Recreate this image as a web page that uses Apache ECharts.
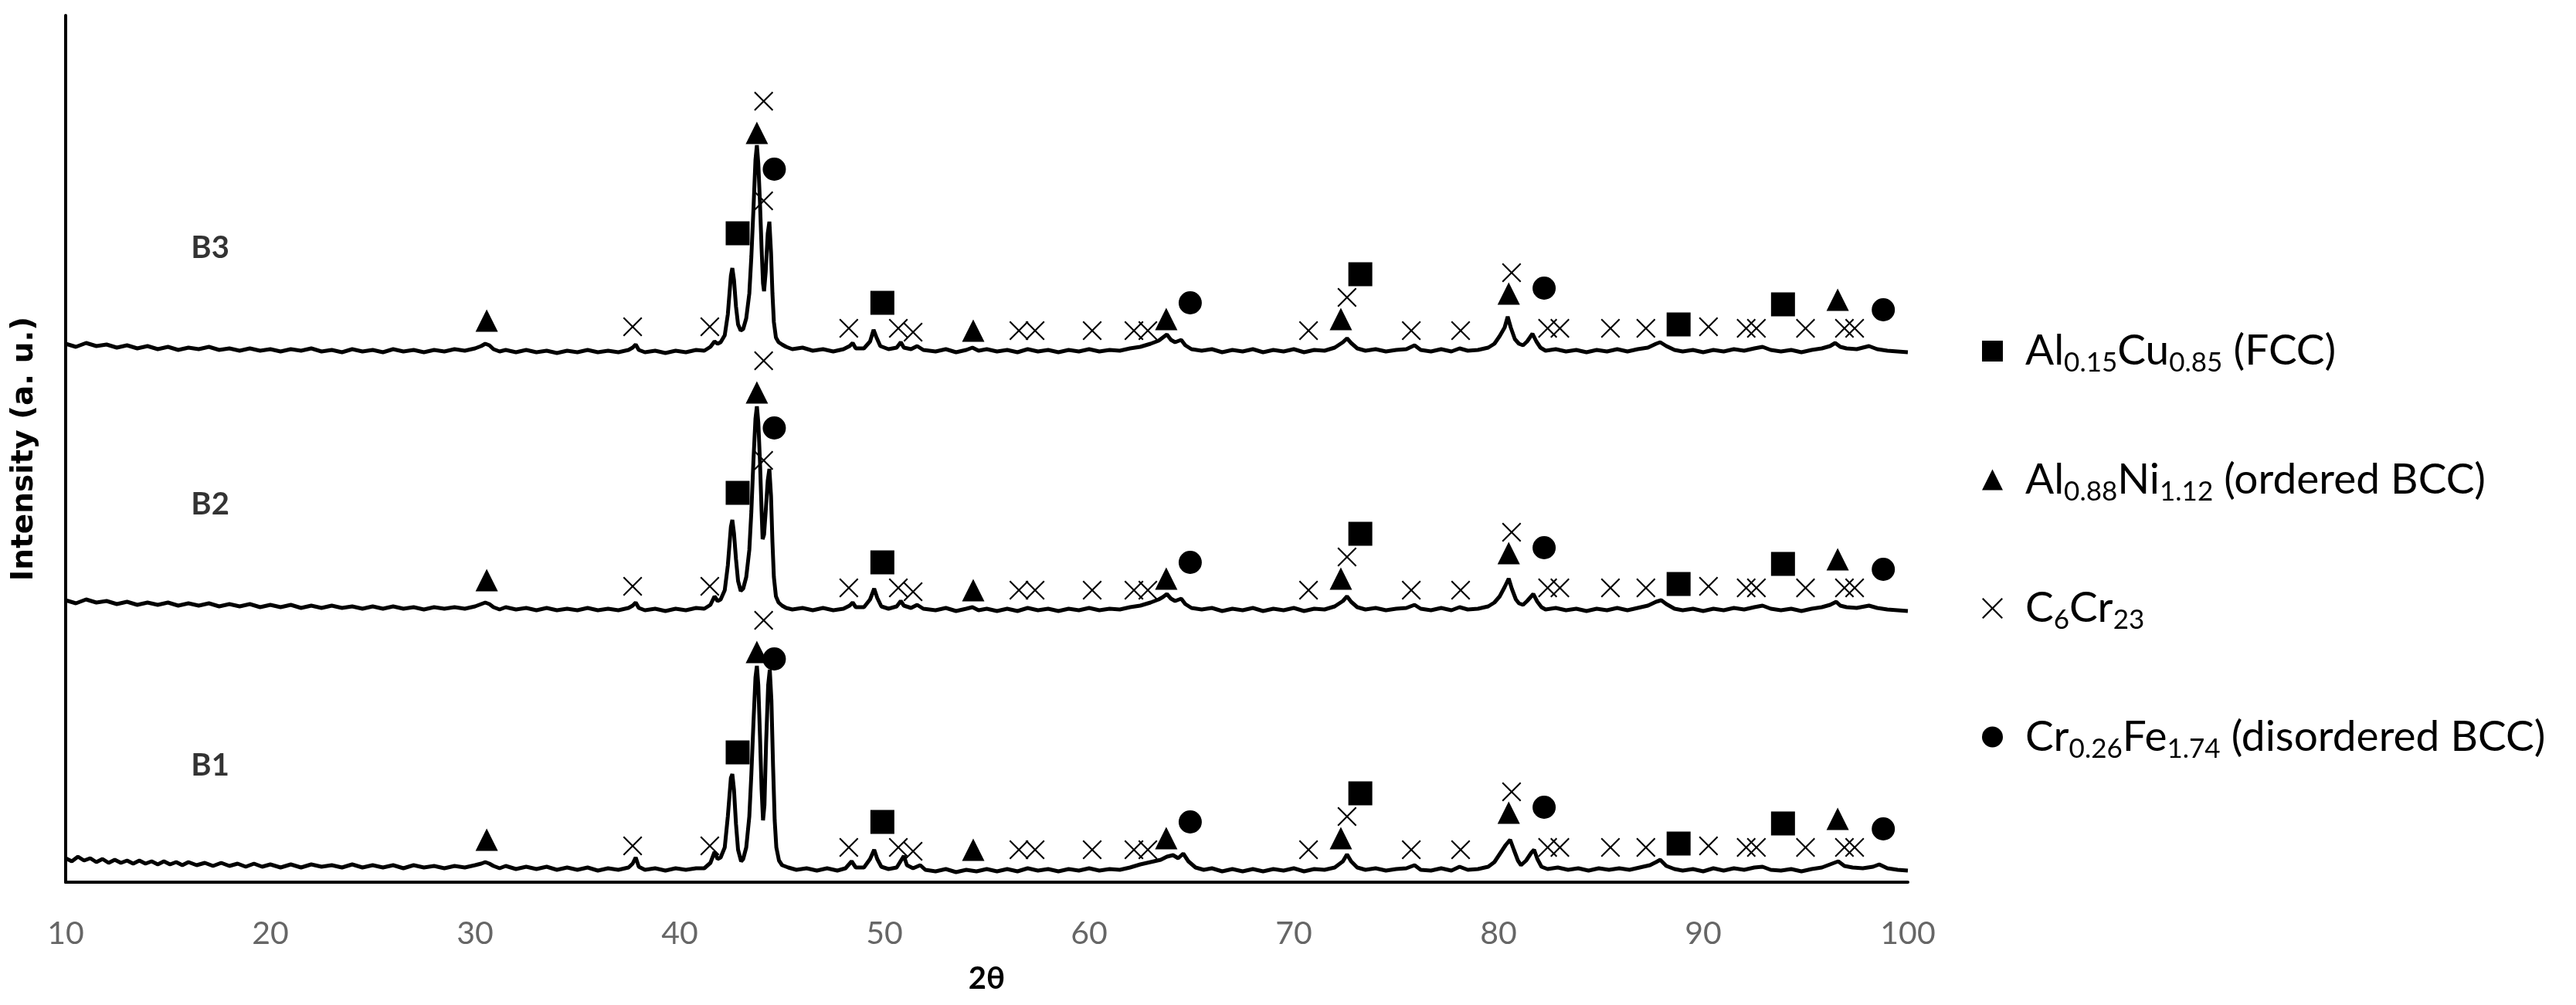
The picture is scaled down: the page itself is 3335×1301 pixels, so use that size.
<!DOCTYPE html>
<html>
<head>
<meta charset="utf-8">
<title>XRD B1 B2 B3</title>
<script src="https://cdn.jsdelivr.net/npm/echarts@6/dist/echarts.min.js"></script>
<style>
  html, body { margin: 0; padding: 0; background: #fff; }
  #chart { width: 3335px; height: 1301px; }
</style>
</head>
<body>
<div id="chart"></div>
<script>
// x axis ticks (2θ)
const xTicks = [10, 20, 30, 40, 50, 60, 70, 80, 90, 100];

// sample names and where their labels sit
const sampleNames = ["B1", "B2", "B3"];
const sampleLabelPos = [[17.06, 151], [17.06, 489], [17.06, 821]];

// diffraction patterns as plotted (already offset), [2θ, intensity]
const b3Data = [
  [10,697],[10.5,693],[11,698],[11.5,694],[12,696],[12.5,692],[13,695],[13.5,691],[14,694],[14.5,690],
  [15,693],[15.5,689],[16,692],[16.5,690],[17,693],[17.5,689],[18,691],[18.5,688],[19,691],[19.5,688],
  [20,690],[20.5,687],[21,690],[21.5,688],[22,691],[22.5,687],[23,689],[23.5,686],[24,690],[24.5,687],
  [25,689],[25.5,686],[26,690],[26.5,687],[27,689],[27.5,686],[28,689],[28.5,687],[29,690],[29.5,688],
  [30,691],[30.3,694],[30.5,697],[30.7,695],[30.9,690],[31.2,687],[31.5,689],[32,686],[32.5,689],[33,686],
  [33.5,688],[34,685],[34.5,688],[35,686],[35.5,689],[36,686],[36.5,688],[37,686],[37.5,689],[37.7,692],
  [37.85,696],[38,689],[38.3,686],[38.8,688],[39.3,685],[39.8,688],[40.3,686],[40.8,689],[41.2,688],[41.5,693],
  [41.7,700],[41.85,697],[42,699],[42.2,708],[42.35,735],[42.5,785],[42.57,795],[42.65,780],[42.75,745],[42.85,722],
  [42.98,714],[43.1,716],[43.25,730],[43.4,762],[43.5,810],[43.6,870],[43.7,935],[43.77,954],[43.84,930],[43.92,880],
  [44,820],[44.07,775],[44.12,765],[44.2,790],[44.3,840],[44.38,855],[44.46,815],[44.53,762],[44.6,725],[44.7,705],
  [44.83,699],[45,696],[45.2,693],[45.5,690],[46,692],[46.5,688],[47,690],[47.5,687],[48,690],[48.3,694],
  [48.45,698],[48.6,691],[49,691],[49.3,700],[49.47,715],[49.6,706],[49.8,694],[50.2,690],[50.6,692],[50.8,699],
  [50.95,692],[51.3,690],[51.6,694],[51.9,689],[52.5,687],[53,690],[53.5,686],[54,689],[54.3,692],[54.6,688],
  [55,690],[55.5,687],[56,689],[56.5,686],[57,690],[57.5,687],[58,689],[58.5,686],[59,689],[59.5,687],
  [60,690],[60.5,687],[61,689],[61.5,688],[62,691],[62.5,693],[63,697],[63.4,701],[63.6,705],[63.8,709],
  [64,702],[64.2,699],[64.5,702],[64.7,695],[65,690],[65.5,688],[66,690],[66.5,686],[67,689],[67.5,687],
  [68,690],[68.5,686],[69,689],[69.5,687],[70,690],[70.5,686],[71,689],[71.5,688],[72,692],[72.4,699],
  [72.6,704],[72.8,698],[73.1,691],[73.5,688],[74,690],[74.5,687],[75,689],[75.5,690],[75.9,695],[76.2,689],
  [76.7,687],[77.2,690],[77.7,687],[78.1,691],[78.5,688],[79,689],[79.5,692],[79.8,697],[80.06,707],[80.3,718],
  [80.45,732],[80.6,718],[80.8,703],[81,697],[81.2,695],[81.4,700],[81.66,710],[81.85,700],[82.05,692],[82.3,688],
  [82.8,690],[83.3,687],[83.8,689],[84.3,686],[84.8,689],[85.3,687],[85.8,690],[86.3,687],[86.8,690],[87.3,692],
  [87.7,697],[87.9,699],[88.2,694],[88.6,689],[89,687],[89.5,689],[90,686],[90.5,689],[91,687],[91.5,690],
  [92,688],[92.5,691],[92.9,693],[93.3,689],[93.8,687],[94.3,689],[94.8,686],[95.3,689],[95.8,691],[96.2,694],
  [96.45,698],[96.7,693],[97,691],[97.5,690],[98.1,694],[98.5,690],[99,688],[99.5,687],[100,686]
];

const b2Data = [
  [10,365],[10.5,361],[11,366],[11.5,362],[12,364],[12.5,360],[13,363],[13.5,359],[14,362],[14.5,359],
  [15,362],[15.5,358],[16,361],[16.5,358],[17,361],[17.5,357],[18,360],[18.5,357],[19,360],[19.5,356],
  [20,359],[20.5,356],[21,359],[21.5,355],[22,358],[22.5,355],[23,358],[23.5,355],[24,357],[24.5,354],
  [25,357],[25.5,354],[26,357],[26.5,354],[27,356],[27.5,353],[28,356],[28.5,354],[29,356],[29.5,354],
  [30,357],[30.3,360],[30.5,362],[30.7,360],[30.9,356],[31.2,353],[31.5,356],[32,353],[32.5,355],[33,352],
  [33.5,355],[34,352],[34.5,354],[35,352],[35.5,355],[36,352],[36.5,354],[37,352],[37.5,355],[37.7,358],
  [37.85,362],[38,355],[38.3,352],[38.8,354],[39.3,351],[39.8,354],[40.3,352],[40.8,355],[41.2,354],[41.5,359],
  [41.7,370],[41.85,364],[42,366],[42.2,378],[42.35,410],[42.5,460],[42.57,469],[42.65,452],[42.75,418],[42.85,390],
  [42.98,377],[43.1,380],[43.25,395],[43.4,430],[43.5,480],[43.6,545],[43.7,600],[43.77,616],[43.84,595],[43.92,545],
  [44,480],[44.05,444],[44.12,450],[44.2,480],[44.3,520],[44.38,535],[44.46,500],[44.53,440],[44.6,395],[44.7,370],
  [44.83,362],[45,358],[45.2,355],[45.5,353],[46,355],[46.5,352],[47,355],[47.5,352],[48,354],[48.3,358],
  [48.45,362],[48.6,356],[49,356],[49.3,366],[49.5,380],[49.65,368],[49.85,357],[50.2,354],[50.6,357],[50.8,364],
  [50.95,358],[51.3,355],[51.6,359],[51.9,354],[52.5,352],[53,355],[53.5,351],[54,354],[54.3,356],[54.6,352],
  [55,354],[55.5,351],[56,354],[56.5,351],[57,355],[57.5,352],[58,354],[58.5,351],[59,354],[59.5,352],
  [60,355],[60.5,352],[61,354],[61.5,353],[62,356],[62.5,358],[63,362],[63.4,366],[63.6,369],[63.8,373],
  [64,367],[64.2,364],[64.5,367],[64.7,360],[65,355],[65.5,353],[66,355],[66.5,351],[67,354],[67.5,352],
  [68,355],[68.5,351],[69,354],[69.5,352],[70,355],[70.5,351],[71,354],[71.5,353],[72,357],[72.4,364],
  [72.6,370],[72.8,363],[73.1,356],[73.5,353],[74,355],[74.5,352],[75,354],[75.5,355],[75.9,359],[76.2,354],
  [76.7,352],[77.2,355],[77.7,352],[78.1,356],[78.5,353],[79,354],[79.5,357],[79.8,362],[80.06,370],[80.3,382],
  [80.5,393],[80.65,380],[80.85,366],[81,361],[81.2,359],[81.4,364],[81.7,373],[81.9,363],[82.1,356],[82.3,353],
  [82.8,355],[83.3,352],[83.8,354],[84.3,351],[84.8,354],[85.3,352],[85.8,355],[86.3,352],[86.8,355],[87.3,358],
  [87.7,363],[87.95,365],[88.2,360],[88.6,354],[89,352],[89.5,354],[90,351],[90.5,354],[91,352],[91.5,355],
  [92,353],[92.5,356],[92.9,358],[93.3,354],[93.8,352],[94.3,354],[94.8,351],[95.3,354],[95.8,356],[96.2,359],
  [96.5,363],[96.7,358],[97,356],[97.5,355],[98.1,358],[98.5,355],[99,353],[99.5,352],[100,351]
];

const b1Data = [
  [10,31],[10.3,27],[10.6,33],[10.9,28],[11.2,31],[11.5,26],[11.8,30],[12.1,25],[12.4,29],[12.7,25],
  [13,28],[13.3,24],[13.6,28],[13.9,24],[14.2,27],[14.5,23],[14.8,27],[15.1,23],[15.4,26],[15.7,22],
  [16,26],[16.4,22],[16.8,25],[17.2,21],[17.6,25],[18,21],[18.4,24],[18.8,20],[19.2,24],[19.6,20],
  [20,23],[20.5,19],[21,23],[21.5,19],[22,23],[22.5,20],[23,22],[23.5,19],[24,23],[24.5,19],
  [25,22],[25.5,19],[26,22],[26.5,18],[27,22],[27.5,19],[28,21],[28.5,18],[29,21],[29.5,19],
  [30,22],[30.3,24],[30.5,26],[30.7,24],[30.9,21],[31.2,18],[31.5,21],[32,17],[32.5,20],[33,17],
  [33.5,20],[34,16],[34.5,19],[35,16],[35.5,19],[36,15],[36.5,18],[37,16],[37.5,19],[37.7,24],
  [37.85,32],[38,20],[38.3,16],[38.8,18],[39.3,15],[39.8,18],[40.3,16],[40.8,18],[41.2,18],[41.5,25],
  [41.7,39],[41.85,30],[42,32],[42.2,45],[42.35,85],[42.5,135],[42.57,140],[42.65,120],[42.75,75],[42.85,42],
  [43,27],[43.1,30],[43.25,45],[43.4,85],[43.5,140],[43.6,205],[43.7,265],[43.77,280],[43.84,255],[43.92,190],
  [44,120],[44.07,80],[44.14,100],[44.22,180],[44.32,255],[44.4,275],[44.48,235],[44.56,150],[44.64,80],[44.72,45],
  [44.85,28],[45,22],[45.3,19],[45.7,16],[46.2,18],[46.7,15],[47.2,18],[47.7,15],[48.1,18],[48.4,27],
  [48.6,19],[49,19],[49.3,30],[49.5,42],[49.65,30],[49.85,20],[50.2,17],[50.6,19],[50.95,34],[51.1,22],
  [51.4,18],[51.75,22],[52,16],[52.5,14],[53,17],[53.5,13],[54,16],[54.5,14],[55,17],[55.5,14],
  [56,17],[56.5,14],[57,18],[57.5,15],[58,17],[58.5,14],[59,17],[59.5,15],[60,18],[60.5,15],
  [61,17],[61.5,16],[62,19],[62.5,23],[63,26],[63.5,29],[63.8,33],[64.1,35],[64.35,31],[64.6,37],
  [64.85,27],[65.2,19],[65.6,16],[66,18],[66.5,14],[67,17],[67.5,14],[68,17],[68.5,14],[69,17],
  [69.5,15],[70,18],[70.5,14],[71,17],[71.5,16],[72,19],[72.4,27],[72.6,36],[72.8,27],[73.1,19],
  [73.5,16],[74,18],[74.5,15],[75,17],[75.5,18],[75.9,22],[76.2,16],[76.7,15],[77.2,18],[77.7,15],
  [78.1,20],[78.5,16],[79,17],[79.5,20],[79.8,26],[80.1,38],[80.35,48],[80.57,55],[80.75,42],[80.95,28],
  [81.1,22],[81.35,28],[81.6,38],[81.74,42],[81.9,30],[82.1,20],[82.4,17],[82.9,19],[83.4,16],[83.9,18],
  [84.4,15],[84.9,18],[85.4,16],[85.9,18],[86.4,16],[86.9,19],[87.4,22],[87.7,26],[87.9,29],[88.2,21],
  [88.6,17],[89,15],[89.5,17],[90,14],[90.5,18],[91,15],[91.5,18],[92,16],[92.5,19],[92.9,20],
  [93.3,16],[93.8,15],[94.3,17],[94.8,14],[95.3,17],[95.8,19],[96.2,23],[96.6,27],[96.9,21],[97.3,19],
  [97.8,18],[98.3,20],[98.6,23],[99,18],[99.5,16],[100,15]
];

// phase markers: 2θ positions and the heights they sit at for each sample
const fccPos = [42.83, 49.9, 73.25, 88.8, 93.9];
const fccB3 = [840, 750, 787, 722, 748];
const fccB2 = [504, 414, 451, 386, 412];
const fccB1 = [168, 78, 115, 50, 76];

const orderedPos = [30.57, 43.77, 54.34, 63.77, 72.3, 80.5, 96.57];
const orderedB3 = [727, 970, 714, 729, 729, 762, 754];
const orderedB2 = [391, 634, 378, 393, 393, 426, 418];
const orderedB1 = [55, 298, 42, 57, 57, 90, 82];

const carbidePos = [37.7, 41.47, 44.1, 44.1, 48.26, 50.68, 51.4, 56.57, 57.36, 60.15, 62.19, 62.87, 70.72, 72.6,
  75.74, 78.15, 80.64, 82.4, 83.0, 85.47, 87.2, 90.26, 92.1, 92.6, 95.0, 96.9, 97.4];
const carbideB3 = [719, 719, 1011, 882, 717, 717, 712, 714, 714, 714, 714, 714, 714, 757,
  714, 714, 789, 717, 717, 717, 717, 719, 717, 717, 717, 717, 717];
const carbideB2 = [383, 383, 675, 546, 381, 381, 376, 378, 378, 378, 378, 378, 378, 421,
  378, 378, 453, 381, 381, 381, 381, 383, 381, 381, 381, 381, 381];
const carbideB1 = [47, 47, 339, null, 45, 45, 40, 42, 42, 42, 42, 42, 42, 85,
  42, 42, 117, 45, 45, 45, 45, 47, 45, 45, 45, 45, 45];

const disorderedPos = [44.62, 64.94, 82.23, 98.8];
const disorderedB3 = [923, 750, 769, 741];
const disorderedB2 = [588, 414, 433, 405];
const disorderedB1 = [289, 78, 97, 69];

const phaseNames = [
  "Al0.15Cu0.85 (FCC)",
  "Al0.88Ni1.12 (ordered BCC)",
  "C6Cr23",
  "Cr0.26Fe1.74 (disordered BCC)"
];
const phaseRich = {
  "Al0.15Cu0.85 (FCC)": "{g|}{n|Al}{s|0.15}{n|Cu}{s|0.85}{n| (FCC)}",
  "Al0.88Ni1.12 (ordered BCC)": "{g|}{n|Al}{s|0.88}{n|Ni}{s|1.12}{n| (ordered BCC)}",
  "C6Cr23": "{g|}{n|C}{s|6}{n|Cr}{s|23}",
  "Cr0.26Fe1.74 (disordered BCC)": "{g|}{n|Cr}{s|0.26}{n|Fe}{s|1.74}{n| (disordered BCC)}"
};

const crossPath = "path://M0,6 L6,0 L50,44 L94,0 L100,6 L56,50 L100,94 L94,100 L50,56 L6,100 L0,94 L44,50 Z";

function markerData(pos, b1, b2, b3) {
  let out = [];
  [b1, b2, b3].forEach(hs => {
    pos.forEach((x, i) => {
      if (hs[i] != null) out.push([x, hs[i]]);
    });
  });
  return out;
}

const chart = echarts.init(document.getElementById("chart"));

const lineStyleCommon = { color: "#000", width: 5 };
const markStyle = { color: "#000", opacity: 1 };

let option = {
  animation: false,
  backgroundColor: "#fff",
  grid: { left: 85, right: 865, top: 20, bottom: 159 },
  legend: {
    orient: "vertical",
    left: 2566,
    top: 427,
    padding: 0,
    itemGap: 106,
    itemWidth: 27,
    itemHeight: 27,
    selectedMode: false,
    data: [
      { name: phaseNames[0], icon: "rect" },
      { name: phaseNames[1], icon: "triangle" },
      { name: phaseNames[2], icon: crossPath },
      { name: phaseNames[3], icon: "circle" }
    ],
    formatter: name => phaseRich[name],
    textStyle: {
      color: "#000",
      rich: {
        g: { width: 24 },
        n: { fontFamily: "Lato", fontSize: 55, lineHeight: 66, color: "#000" },
        s: { fontFamily: "Lato", fontSize: 35, lineHeight: 32, verticalAlign: "bottom", color: "#000" }
      }
    }
  },
  xAxis: {
    type: "value",
    min: 10,
    max: 100,
    interval: 10,
    name: "2θ",
    nameLocation: "middle",
    nameGap: 105,
    nameTextStyle: { fontFamily: "Lato", fontWeight: "bold", fontSize: 40, color: "#000" },
    axisLine: { show: true, lineStyle: { color: "#000", width: 4 } },
    axisTick: { show: false },
    splitLine: { show: false },
    axisLabel: {
      margin: 46,
      fontFamily: "Lato",
      fontSize: 41,
      color: "#666666",
      formatter: v => (xTicks.indexOf(v) >= 0 ? String(v) : "")
    }
  },
  yAxis: {
    type: "value",
    min: 0,
    max: 1122,
    name: "Intensity (a. u.)",
    nameLocation: "middle",
    nameGap: 34,
    nameTextStyle: { fontFamily: "DejaVu Sans", fontWeight: "bold", fontSize: 39, color: "#000" },
    axisLine: { show: true, lineStyle: { color: "#000", width: 4 } },
    axisTick: { show: false },
    axisLabel: { show: false },
    splitLine: { show: false }
  },
  series: [
    { name: "B1", type: "line", data: b1Data, showSymbol: false, lineStyle: lineStyleCommon, z: 2 },
    { name: "B2", type: "line", data: b2Data, showSymbol: false, lineStyle: lineStyleCommon, z: 2 },
    { name: "B3", type: "line", data: b3Data, showSymbol: false, lineStyle: lineStyleCommon, z: 2 },
    {
      name: phaseNames[0], type: "scatter", symbol: "rect", symbolSize: 31,
      itemStyle: markStyle, z: 3,
      data: markerData(fccPos, fccB1, fccB2, fccB3)
    },
    {
      name: phaseNames[1], type: "scatter", symbol: "triangle", symbolSize: 29,
      itemStyle: markStyle, z: 3,
      data: markerData(orderedPos, orderedB1, orderedB2, orderedB3)
    },
    {
      name: phaseNames[2], type: "scatter", symbol: crossPath, symbolSize: 25,
      itemStyle: markStyle, z: 3,
      data: markerData(carbidePos, carbideB1, carbideB2, carbideB3)
    },
    {
      name: phaseNames[3], type: "scatter", symbol: "circle", symbolSize: 30,
      itemStyle: markStyle, z: 3,
      data: markerData(disorderedPos, disorderedB1, disorderedB2, disorderedB3)
    },
    {
      name: "sampleLabels", type: "scatter", symbolSize: 0, silent: true, z: 4,
      data: sampleLabelPos.map((p, i) => ({ value: p, name: sampleNames[i] })),
      label: {
        show: true,
        position: "inside",
        formatter: p => p.name,
        fontFamily: "Lato",
        fontWeight: "bold",
        fontSize: 40,
        color: "#000"
      }
    }
  ]
};

chart.setOption(option);
</script>
</body>
</html>
